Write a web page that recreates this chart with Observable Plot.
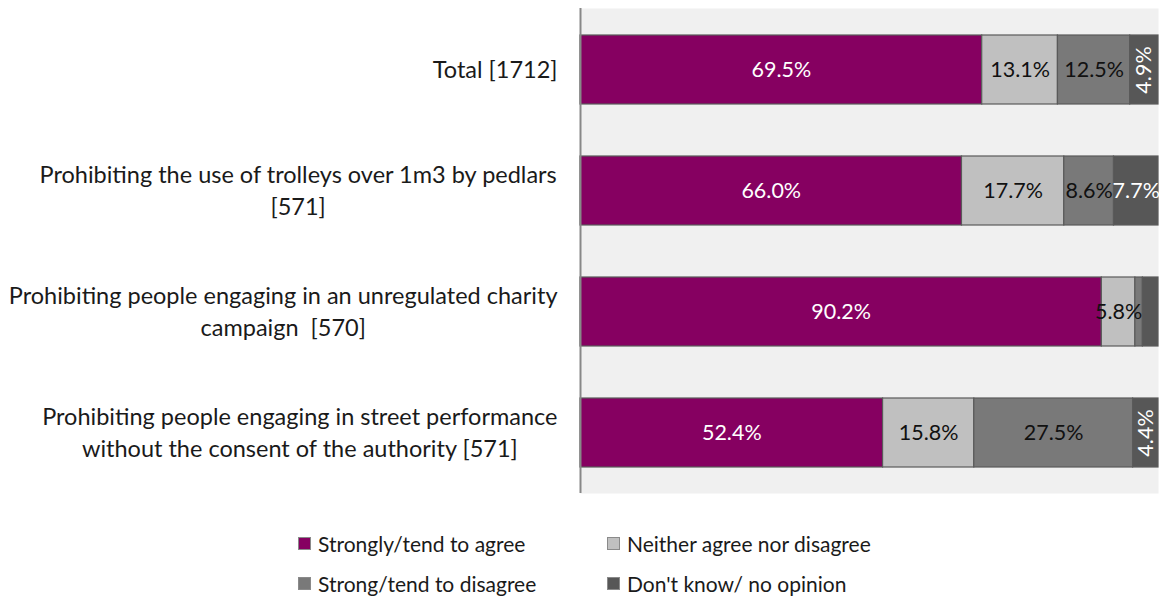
<!DOCTYPE html>
<html>
<head>
<meta charset="utf-8">
<script src="https://cdn.jsdelivr.net/npm/d3@7"></script>
<script src="https://cdn.jsdelivr.net/npm/@observablehq/plot@0.6"></script>
<style>
  html, body { margin: 0; padding: 0; background: #fff; }
  body { width: 1163px; height: 602px; overflow: hidden; font-family: Lato, "Open Sans", sans-serif; }
  #legend { position: relative; width: 1163px; height: 102px; font-size: 21px; color: #1a1a1a; }
  .item { position: absolute; display: flex; align-items: center; white-space: nowrap; }
  .sw { width: 13px; height: 13px; border: 1px solid #8a8a8a; margin-right: 7px; box-sizing: border-box; }
</style>
</head>
<body>
<div id="chart"></div>
<div id="legend"></div>
<script>
const categories = [
  "Total [1712]",
  "Prohibiting the use of trolleys over 1m3 by pedlars\n[571]",
  "Prohibiting people engaging in an unregulated charity\ncampaign  [570]",
  "Prohibiting people engaging in street performance\nwithout the consent of the authority [571]"
];
const series = ["Strongly/tend to agree", "Neither agree nor disagree", "Strong/tend to disagree", "Don't know/ no opinion"];
const agree    = [69.5, 66.0, 90.2, 52.4];
const neither  = [13.1, 17.7, 5.8, 15.8];
const disagree = [12.5, 8.6, 1.3, 27.5];
const dontKnow = [4.9, 7.7, 2.7, 4.4];
const colors = ["#860061", "#c0c0c0", "#797979", "#575757"];
const textColors = ["#ffffff", "#111111", "#111111", "#ffffff"];

const seriesValues = [agree, neither, disagree, dontKnow];
const rows = [];
categories.forEach((cat, i) => {
  series.forEach((s, j) => {
    rows.push({cat, series: s, value: seriesValues[j][i], tcolor: textColors[j]});
  });
});

const FONT = "Lato, 'Open Sans', sans-serif";
const LABEL_FS = 23.5;
const BAR_FS = 21.5;
const canvas = document.createElement("canvas");
const ctx = canvas.getContext("2d");
ctx.font = `${LABEL_FS}px Lato`;
const lineHeight = 32;
const labelLines = [];
categories.forEach(cat => {
  const lines = cat.split("\n");
  const w = Math.max(...lines.map(l => ctx.measureText(l).width));
  lines.forEach((l, k) => {
    labelLines.push({cat, text: l, dy: (k - (lines.length - 1) / 2) * lineHeight, dx: -23 - w / 2});
  });
});

const stackOpts = {x: "value", y: "cat", z: "series", offset: "normalize"};
const fmt = d => d.value.toFixed(1) + "%";

const chart = Plot.plot({
  width: 1163,
  height: 500,
  marginLeft: 580,
  marginRight: 5,
  marginTop: 8,
  marginBottom: 7,
  style: {fontFamily: FONT, fontSize: BAR_FS + "px", background: "#fff"},
  x: {domain: [0, 1], axis: null},
  y: {domain: categories, paddingInner: 0.43, paddingOuter: 0.215, axis: null},
  color: {domain: series, range: colors},
  marks: [
    Plot.frame({fill: "#f0f0f0", stroke: null}),
    Plot.barX(rows, Plot.stackX({...stackOpts, fill: "series", stroke: "#5a5a5a", strokeWidth: 1.2})),
    Plot.text(rows, Plot.stackX({...stackOpts, text: d => d.value >= 5 ? fmt(d) : "", fill: "tcolor", fontSize: BAR_FS})),
    Plot.text(rows, Plot.stackX({...stackOpts, text: d => (d.value >= 3.5 && d.value < 5) ? fmt(d) : "", fill: "tcolor", rotate: -90, fontSize: BAR_FS})),
    Plot.ruleX([0], {stroke: "#888888", strokeWidth: 2}),
    ...labelLines.map(l => Plot.text([l], {y: "cat", text: "text", frameAnchor: "left", textAnchor: "middle", dx: l.dx, dy: l.dy, fill: "#1a1a1a", fontSize: LABEL_FS}))
  ]
});
document.getElementById("chart").appendChild(chart);

const legend = document.getElementById("legend");
const pos = [[298, 43], [607, 43], [298, 83], [607, 83]];
series.forEach((s, j) => {
  const it = document.createElement("div");
  it.className = "item";
  it.style.left = pos[j][0] + "px";
  it.style.top = (pos[j][1] - 14) + "px";
  it.style.height = "28px";
  it.innerHTML = `<div class="sw" style="background:${colors[j]}"></div><span>${s}</span>`;
  legend.appendChild(it);
});
</script>
</body>
</html>
